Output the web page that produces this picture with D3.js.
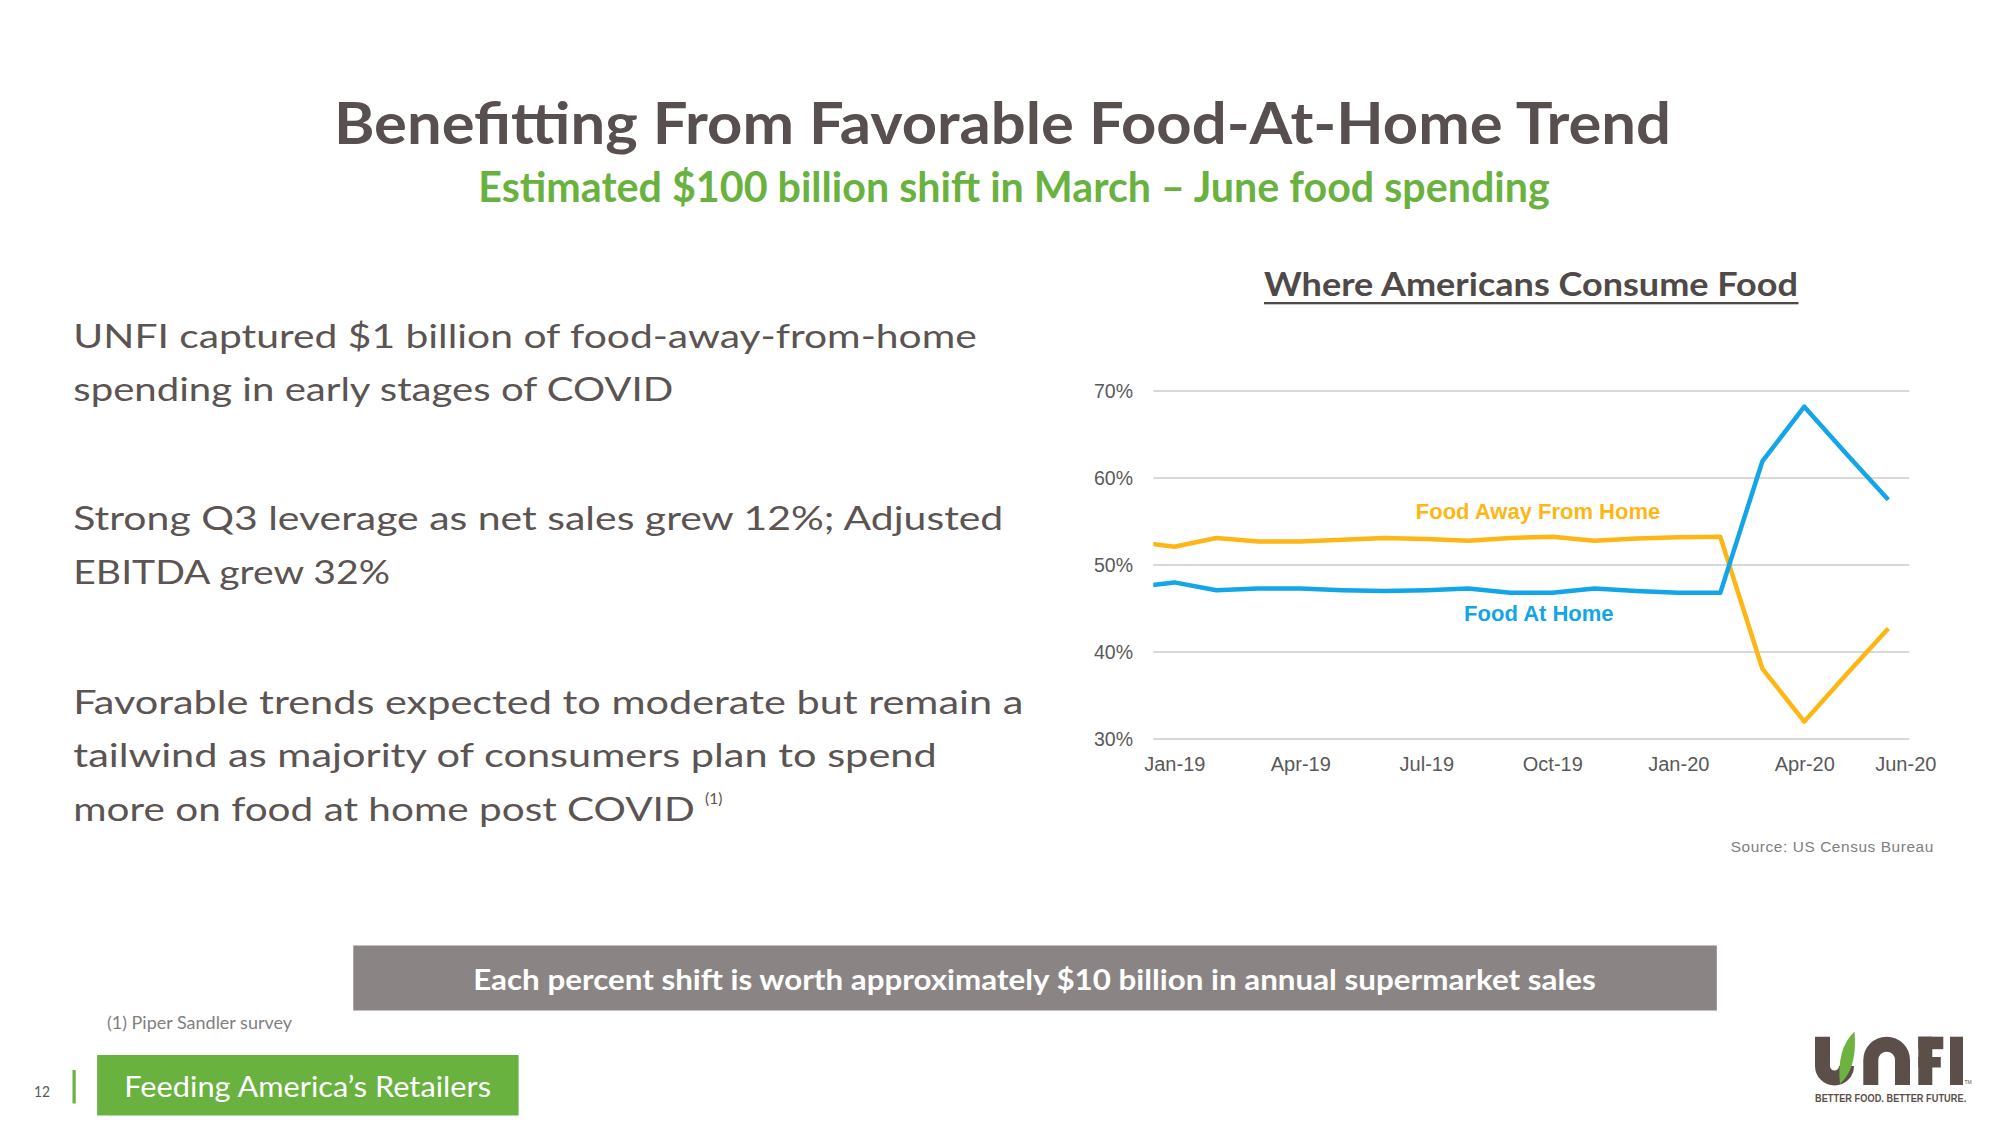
<!DOCTYPE html>
<html>
<head>
<meta charset="utf-8">
<script src="https://cdn.jsdelivr.net/npm/d3@7"></script>
<style>
  html, body { margin: 0; padding: 0; background: #ffffff; }
  svg { display: block; }
</style>
</head>
<body>
<svg id="slide" width="2000" height="1125"></svg>
<script>
// ---------------- DATA ----------------
// Monthly share of food spending (%), Dec-18 .. Jun-20
const months = ["Dec-18","Jan-19","Feb-19","Mar-19","Apr-19","May-19","Jun-19","Jul-19","Aug-19","Sep-19",
                "Oct-19","Nov-19","Dec-19","Jan-20","Feb-20","Mar-20","Apr-20","May-20","Jun-20"];
const foodAwayFromHome = [52.7,52.1,53.1,52.7,52.7,52.9,53.1,53.0,52.8,53.1,
                          53.25,52.8,53.05,53.2,53.25,38.1,32.0,37.4,42.7];
const foodAtHome       = [47.4,48.0,47.1,47.3,47.3,47.1,47.0,47.1,47.3,46.8,
                          46.8,47.3,47.0,46.8,46.8,61.9,68.2,62.8,57.5];
const xTickLabels = ["Jan-19","Apr-19","Jul-19","Oct-19","Jan-20","Apr-20","Jun-20"];
const yTicks = [30, 40, 50, 60, 70];
const seriesNames = ["Food Away From Home", "Food At Home"];

const titleText = "Benefitting From Favorable Food-At-Home Trend";
const subtitleText = "Estimated $100 billion shift in March \u2013 June food spending";
const chartTitleText = "Where Americans Consume Food";
const bulletLines = [
  "UNFI captured $1 billion of food-away-from-home",
  "spending in early stages of COVID",
  "Strong Q3 leverage as net sales grew 12%; Adjusted",
  "EBITDA grew 32%",
  "Favorable trends expected to moderate but remain a",
  "tailwind as majority of consumers plan to spend",
  "more on food at home post COVID"
];
const sourceText = "Source: US Census Bureau";
const bannerText = "Each percent shift is worth approximately $10 billion in annual supermarket sales";
const footnoteText = "(1) Piper Sandler survey";
const footerText = "Feeding America\u2019s Retailers";
const pageNumber = "12";
const taglineText = "BETTER FOOD. BETTER FUTURE.";

// ---------------- LAYOUT / STYLE ----------------
const svg = d3.select("#slide");
const CAL = "Lato, 'Open Sans', sans-serif";
const ARIAL = "'Liberation Sans', Arial, sans-serif";
const GREEN = "#6AB23F";
const TITLE_GRAY = "#58504F";
const BODY_GRAY = "#5B5452";
const ORANGE = "#FDB714";
const BLUE = "#12A5E8";

function addText(g, o) {
  const t = g.append("text")
    .attr("x", o.x).attr("y", o.y)
    .attr("font-family", o.family || CAL)
    .attr("font-size", o.size)
    .attr("font-weight", o.weight || "normal")
    .attr("fill", o.fill || BODY_GRAY)
    .attr("text-anchor", o.anchor || "start")
    .text(o.text);
  if (o.width) {
    t.attr("textLength", o.width).attr("lengthAdjust", o.adjust || "spacingAndGlyphs");
  }
  return t;
}

// Title & subtitle
addText(svg, {x: 334, y: 143.5, size: 58, weight: "bold", fill: TITLE_GRAY, text: titleText, width: 1337});
addText(svg, {x: 478.3, y: 201.7, size: 41.7, weight: "bold", fill: GREEN, text: subtitleText, width: 1071.5});

// Chart title (underlined)
addText(svg, {x: 1264, y: 296, size: 33.3, weight: "bold", fill: "#4F4948", text: chartTitleText, width: 534});
svg.append("rect").attr("x", 1264).attr("y", 302).attr("width", 534.5).attr("height", 2.3).attr("fill", "#4F4948");

// Bullet text
const bulletBaselines = [348.4, 401.4, 530.1, 583.7, 713.5, 767.1, 820.8];
const bulletWidths = [903.4, 600, 930, 316.7, 950, 863.4, 621.4];
bulletLines.forEach((line, i) => {
  addText(svg, {x: 73.3, y: bulletBaselines[i], size: 33.3, fill: BODY_GRAY, text: line, width: bulletWidths[i]});
});
addText(svg, {x: 705, y: 804, size: 15.5, fill: BODY_GRAY, text: "(1)"});

// ---------------- CHART ----------------
const plot = {left: 1153.3, right: 1909.3, top: 391, bottom: 739};
// month index: 0 = Jan-19 ; Dec-18 = -1 (half band left of plot edge, clipped)
const x = d3.scaleLinear().domain([-0.5, 17.5]).range([plot.left, plot.right]);
const y = d3.scaleLinear().domain([30, 70]).range([plot.bottom, plot.top]);
const idx = m => months.indexOf(m) - 1;

const chart = svg.append("g");

// gridlines
chart.append("g").selectAll("line").data(yTicks).join("line")
  .attr("x1", plot.left).attr("x2", plot.right)
  .attr("y1", d => y(d)).attr("y2", d => y(d))
  .attr("stroke", "#D9D9D9").attr("stroke-width", 2);

// y axis
const yAxis = chart.append("g").attr("transform", `translate(${plot.left},0)`)
  .call(d3.axisLeft(y).tickValues(yTicks).tickFormat(d => d + "%").tickSize(0).tickPadding(20.3));
yAxis.select(".domain").remove();
yAxis.selectAll("text").attr("font-family", ARIAL).attr("font-size", 19.5).attr("fill", "#595959");

// x axis
const xAxis = chart.append("g").attr("transform", `translate(0,${plot.bottom})`)
  .call(d3.axisBottom(x).tickValues(xTickLabels.map(idx)).tickFormat(i => months[i + 1]).tickSize(0).tickPadding(17.7));
xAxis.select(".domain").remove();
xAxis.selectAll("text").attr("font-family", ARIAL).attr("font-size", 20).attr("fill", "#595959");
// last label is nudged right as in the original
xAxis.selectAll(".tick").filter((d, i, n) => i === n.length - 1).select("text").attr("dx", 17);

// lines
svg.append("defs").append("clipPath").attr("id", "plotClip")
  .append("rect").attr("x", plot.left).attr("y", 0).attr("width", plot.right - plot.left).attr("height", 1125);

const line = d3.line().x((d, i) => x(i - 1)).y(d => y(d));
const lines = chart.append("g").attr("clip-path", "url(#plotClip)");
lines.append("path").datum(foodAwayFromHome).attr("d", line)
  .attr("fill", "none").attr("stroke", ORANGE).attr("stroke-width", 4.5).attr("stroke-linejoin", "round");
lines.append("path").datum(foodAtHome).attr("d", line)
  .attr("fill", "none").attr("stroke", BLUE).attr("stroke-width", 4.5).attr("stroke-linejoin", "round");

// series labels
addText(chart, {x: x(8.66), y: y(56.1), size: 22, weight: "bold", fill: ORANGE, family: ARIAL,
  anchor: "middle", text: seriesNames[0]}).attr("dominant-baseline", "central");
addText(chart, {x: x(8.68), y: y(44.4), size: 22, weight: "bold", fill: BLUE, family: ARIAL,
  anchor: "middle", text: seriesNames[1]}).attr("dominant-baseline", "central");

// source
addText(svg, {x: 1730.7, y: 851.7, size: 15.4, family: ARIAL, fill: "#808080", text: sourceText, width: 202.6, adjust: "spacing"});

// ---------------- BANNER & FOOTER ----------------
svg.append("rect").attr("x", 353.3).attr("y", 945.5).attr("width", 1363.5).attr("height", 65).attr("fill", "#8A8584");
addText(svg, {x: 473.2, y: 990, size: 29.2, weight: "bold", fill: "#ffffff", text: bannerText, width: 1122.5});

addText(svg, {x: 107, y: 1029.3, size: 18, fill: "#7F7F7F", text: footnoteText, width: 185});

svg.append("rect").attr("x", 97.1).attr("y", 1055).attr("width", 421.5).attr("height", 60.5).attr("fill", GREEN);
addText(svg, {x: 124.3, y: 1096.7, size: 29, fill: "#ffffff", text: footerText, width: 366.7});

addText(svg, {x: 34, y: 1096.7, size: 16, fill: "#595959", text: pageNumber, width: 16});
svg.append("rect").attr("x", 72.5).attr("y", 1070).attr("width", 3.2).attr("height", 33.5).attr("fill", GREEN);

// ---------------- LOGO ----------------
const BROWN = "#5C4F49";
const logo = svg.append("g");
// U (left stem + bowl)
logo.append("path").attr("d", "M1822.5,1036.7 V1066 A12,12 0 0 0 1846.5,1066")
  .attr("fill", "none").attr("stroke", BROWN).attr("stroke-width", 15);
// green leaf forming the right stem
logo.append("path").attr("d", "M1840,1084 C1837.5,1062 1842,1043 1854.5,1031.5 C1856,1052 1854,1071 1840,1084 Z")
  .attr("fill", "#6DB33F");
// N (arch)
logo.append("path").attr("d", "M1870.8,1085 V1060 A15.85,15.85 0 0 1 1902.5,1060 V1085")
  .attr("fill", "none").attr("stroke", BROWN).attr("stroke-width", 15);
// F
logo.append("rect").attr("x", 1918.3).attr("y", 1036.7).attr("width", 14).attr("height", 48.3).attr("fill", BROWN);
logo.append("rect").attr("x", 1918.3).attr("y", 1036.7).attr("width", 25).attr("height", 12.5).attr("fill", BROWN);
logo.append("rect").attr("x", 1918.3).attr("y", 1057).attr("width", 22.5).attr("height", 10.5).attr("fill", BROWN);
// I
logo.append("rect").attr("x", 1950).attr("y", 1036.7).attr("width", 13).attr("height", 48.3).attr("fill", BROWN);
addText(logo, {x: 1964.5, y: 1084, size: 5, family: ARIAL, fill: BROWN, text: "TM"});
// tagline: horizontally condensed bold text
logo.append("text")
  .attr("transform", "translate(1815,1102.3) scale(0.8,1)")
  .attr("x", 0).attr("y", 0)
  .attr("font-family", ARIAL).attr("font-size", 11.5).attr("font-weight", "bold")
  .attr("letter-spacing", 0.05)
  .attr("fill", BROWN)
  .text(taglineText);
</script>
</body>
</html>
